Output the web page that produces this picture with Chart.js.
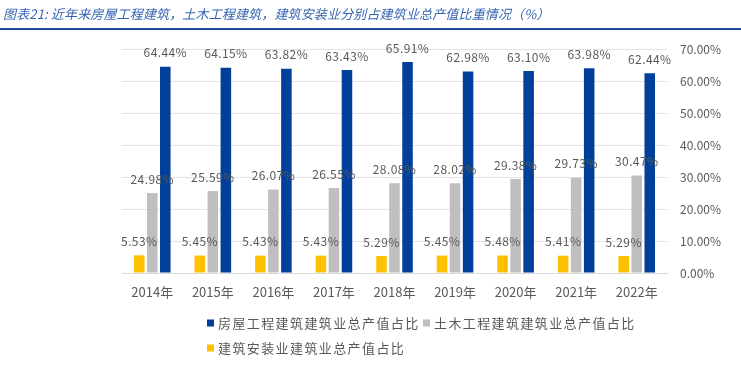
<!DOCTYPE html>
<html>
<head>
<meta charset="utf-8">
<script src="https://cdn.jsdelivr.net/npm/chart.js@4"></script>
<style>
  html, body { margin: 0; padding: 0; background: #fff; }
  #wrap { width: 741px; height: 369px; position: relative; }
</style>
</head>
<body>
<div id="wrap"><canvas id="shareChart" width="741" height="369"></canvas></div>
<script>
// data
var years = ["2014年", "2015年", "2016年", "2017年", "2018年", "2019年", "2020年", "2021年", "2022年"];
var housingShare = [64.44, 64.15, 63.82, 63.43, 65.91, 62.98, 63.10, 63.98, 62.44];
var civilShare = [24.98, 25.59, 26.07, 26.55, 28.08, 28.02, 29.38, 29.73, 30.47];
var installShare = [5.53, 5.45, 5.43, 5.43, 5.29, 5.45, 5.48, 5.41, 5.29];
var yTicks = [0, 10, 20, 30, 40, 50, 60, 70];

var FONT = "'Noto Sans CJK SC', 'Noto Sans', sans-serif";
var TEXT = "#595959";

// value labels above bars
var barLabels = {
  id: "barLabels",
  afterDatasetsDraw: function (chart) {
    var ctx = chart.ctx;
    ctx.save();
    ctx.font = "12px " + FONT;
    ctx.letterSpacing = "0.4px";
    ctx.fillStyle = TEXT;
    ctx.textAlign = "center";
    ctx.textBaseline = "bottom";
    chart.data.datasets.forEach(function (ds, i) {
      chart.getDatasetMeta(i).data.forEach(function (bar, j) {
        ctx.fillText(ds.data[j].toFixed(2) + "%", bar.x, bar.y - 8);
      });
    });
    ctx.restore();
  }
};

// title, rule under it, and the legend
var frame = {
  id: "frame",
  afterDraw: function (chart) {
    var ctx = chart.ctx;
    ctx.save();
    ctx.font = "italic 13px " + FONT;
    ctx.letterSpacing = "0.15px";
    ctx.fillStyle = "#3565b0";
    ctx.textBaseline = "middle";
    ctx.fillText("图表21: 近年来房屋工程建筑，土木工程建筑，建筑安装业分别占建筑业总产值比重情况（%）", 3, 14);
    ctx.fillStyle = "#1f4e99";
    ctx.fillRect(0, 28, 741, 2);

    // legend: blue, gray on first row, yellow on second
    var items = [
      { ds: 2, x: 207, y: 323 },
      { ds: 1, x: 423, y: 323 },
      { ds: 0, x: 207, y: 348 }
    ];
    ctx.font = "13px " + FONT;
    items.forEach(function (it) {
      var ds = chart.data.datasets[it.ds];
      ctx.fillStyle = ds.backgroundColor;
      ctx.fillRect(it.x, it.y - 3.5, 7, 7);
      ctx.fillStyle = TEXT;
      ctx.letterSpacing = "1.4px";
      ctx.fillText(ds.label, it.x + 11, it.y);
    });
    ctx.restore();
  }
};

new Chart(document.getElementById("shareChart"), {
  type: "bar",
  data: {
    labels: years,
    datasets: [{
      label: "建筑安装业建筑业总产值占比",
      data: installShare,
      backgroundColor: "#ffc000"
    }, {
      label: "土木工程建筑建筑业总产值占比",
      data: civilShare,
      backgroundColor: "#bfbfbf"
    }, {
      label: "房屋工程建筑建筑业总产值占比",
      data: housingShare,
      backgroundColor: "#00409a"
    }]
  },
  options: {
    responsive: false,
    animation: false,
    categoryPercentage: 0.645,
    barPercentage: 0.81,
    layout: {
      padding: { top: 49, left: 122, right: 0, bottom: 66 }
    },
    plugins: {
      legend: { display: false },
      tooltip: { enabled: false }
    },
    scales: {
      x: {
        grid: { display: false },
        border: { color: "#d9d9d9" },
        ticks: {
          color: TEXT,
          font: { family: FONT, size: 13 },
          padding: 3
        },
        afterFit: function (scale) { scale.height = 30; }
      },
      y: {
        position: "right",
        min: 0,
        max: 70,
        afterBuildTicks: function (scale) {
          scale.ticks = yTicks.map(function (v) { return { value: v }; });
        },
        grid: { color: "#e3e3e3", drawTicks: false },
        border: { display: false },
        ticks: {
          color: TEXT,
          font: { family: FONT, size: 12 },
          padding: 13,
          callback: function (v) { return v.toFixed(2) + "%"; }
        },
        afterFit: function (scale) { scale.width = 74; }
      }
    }
  },
  plugins: [barLabels, frame]
});
</script>
</body>
</html>
